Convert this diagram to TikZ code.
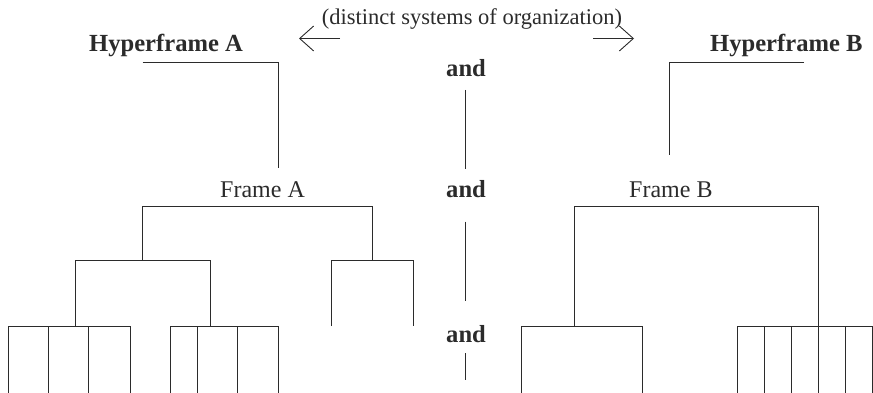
\documentclass[tikz,border=0pt]{standalone}
\usepackage{fontspec}
\setmainfont{Liberation Serif}
\usetikzlibrary{arrows.meta}
\definecolor{ink}{HTML}{2B2B2B}
\tikzset{
  tree/.style={draw=ink, line width=0.9pt},
  txt/.style={inner sep=0pt, anchor=base west, text=ink, font=\fontsize{24}{28}\selectfont},
  boldtxt/.style={txt, font=\fontsize{24.6}{28}\selectfont\bfseries},
  captxt/.style={txt, font=\fontsize{22.5}{26}\selectfont},
  openarrow/.style={draw=ink, line width=0.9pt, -{Straight Barb[length=14pt, width=25pt, line width=0.9pt]}},
}
\begin{document}
\begin{tikzpicture}[x=1pt, y=-1pt]
\useasboundingbox (0,0) rectangle (873,393);

% ---- labels ----
\node[captxt] (caption) at (321.7,25) {(distinct systems of organization)};
\node[boldtxt] (hypA) at (89,51.7) {Hyperframe A};
\node[boldtxt] (hypB) at (710,51.7) {Hyperframe B};
\node[txt] (frmA) at (220,197) {Frame A};
\node[txt] (frmB) at (629,197) {Frame B};
\node[boldtxt] (and1) at (446,77) {and};
\node[boldtxt] (and2) at (446,197) {and};
\node[boldtxt] (and3) at (446,342) {and};

% ---- arrows either side of the caption ----
\coordinate (larr0) at (340,38.5);
\coordinate (larr1) at (299,38.5);
\coordinate (rarr0) at (593,38.5);
\coordinate (rarr1) at (634,38.5);
\draw[openarrow] (larr0) -- (larr1);
\draw[openarrow] (rarr0) -- (rarr1);

% ---- separators between the columns ----
\coordinate (s1a) at (465.7,90);   \coordinate (s1b) at (465.7,169.3);
\coordinate (s2a) at (465.7,221.7); \coordinate (s2b) at (465.7,300.7);
\coordinate (s3a) at (465.7,353.3); \coordinate (s3b) at (465.7,380);
\draw[tree] (s1a) -- (s1b);
\draw[tree] (s2a) -- (s2b);
\draw[tree] (s3a) -- (s3b);

% ---- hyperframe A to frame A ----
\coordinate (hA0) at (142.7,62.3);
\coordinate (hA1) at (278.3,62.3);
\coordinate (hA2) at (278.3,168);
\draw[tree] (hA0) -- (hA1) -- (hA2);

% ---- frame A tree ----
\coordinate (fA0) at (142.7,260);
\coordinate (fA1) at (142.7,206.7);
\coordinate (fA2) at (372.3,206.7);
\coordinate (fA3) at (372.3,260);
\draw[tree] (fA0) -- (fA1) -- (fA2) -- (fA3);

\coordinate (pA0) at (75.3,326);
\coordinate (pA1) at (75.3,260);
\coordinate (pA2) at (210.3,260);
\coordinate (pA3) at (210.3,326);
\draw[tree] (pA0) -- (pA1) -- (pA2) -- (pA3);

\coordinate (qA0) at (331.7,326);
\coordinate (qA1) at (331.7,260);
\coordinate (qA2) at (413.3,260);
\coordinate (qA3) at (413.3,326);
\draw[tree] (qA0) -- (qA1) -- (qA2) -- (qA3);

\coordinate (rA0) at (8,326);     \coordinate (rA1) at (130,326);
\draw[tree] (rA0) -- (rA1);
\foreach \x [count=\i] in {8,48.7,88.7,130} {
  \coordinate (ra\i t) at (\x,326);
  \coordinate (ra\i b) at (\x,393);
  \draw[tree] (ra\i t) -- (ra\i b);
}
\coordinate (tA0) at (170.3,326); \coordinate (tA1) at (278.3,326);
\draw[tree] (tA0) -- (tA1);
\foreach \x [count=\i] in {170.3,197,237.7,278.3} {
  \coordinate (ta\i t) at (\x,326);
  \coordinate (ta\i b) at (\x,393);
  \draw[tree] (ta\i t) -- (ta\i b);
}

% ---- hyperframe B to frame B ----
\coordinate (hB0) at (804,62.3);
\coordinate (hB1) at (669.3,62.3);
\coordinate (hB2) at (669.3,155);
\draw[tree] (hB0) -- (hB1) -- (hB2);

% ---- frame B tree ----
\coordinate (fB0) at (574.3,326);
\coordinate (fB1) at (574.3,206.7);
\coordinate (fB2) at (818.3,206.7);
\coordinate (fB3) at (818.3,326);
\draw[tree] (fB0) -- (fB1) -- (fB2) -- (fB3);

\coordinate (pB0) at (521.3,326); \coordinate (pB1) at (642.3,326);
\draw[tree] (pB0) -- (pB1);
\foreach \x [count=\i] in {521.3,642.3} {
  \coordinate (pb\i t) at (\x,326);
  \coordinate (pb\i b) at (\x,393);
  \draw[tree] (pb\i t) -- (pb\i b);
}
\coordinate (qB0) at (737.3,326); \coordinate (qB1) at (872.3,326);
\draw[tree] (qB0) -- (qB1);
\foreach \x [count=\i] in {737.3,764.3,791.7,818.3,845.7,872.3} {
  \coordinate (qb\i t) at (\x,326);
  \coordinate (qb\i b) at (\x,393);
  \draw[tree] (qb\i t) -- (qb\i b);
}
\end{tikzpicture}
\end{document}
